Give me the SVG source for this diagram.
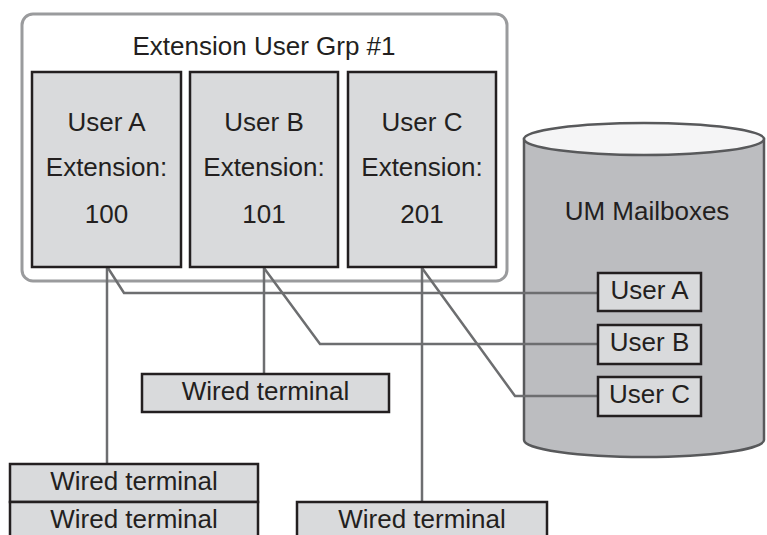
<svg xmlns="http://www.w3.org/2000/svg" width="767" height="535" viewBox="0 0 767 535">
<style>
text{font-family:"Liberation Sans",Arial,sans-serif;font-size:26px;fill:#231f20;text-anchor:middle}
.box{fill:#d9dadc;stroke:#231f20;stroke-width:2.5}
.conn{fill:none;stroke:#6d6e70;stroke-width:2.5}
</style>
<rect width="767" height="535" fill="#fff"/>
<g id="group1">
<rect x="22" y="14" width="485" height="267" rx="11" fill="#fff" stroke="#9a9b9d" stroke-width="3"/>
<text x="264" y="55">Extension User Grp #1</text>
</g>
<g id="mailboxes">
<path d="M524,139 L524,440 A120,17 0 0 0 764,440 L764,139 Z" fill="#bcbdc0" stroke="#58595b" stroke-width="2.5"/>
<ellipse cx="644" cy="139" rx="120" ry="16" fill="#f5f5f6" stroke="#58595b" stroke-width="2.5"/>
<text x="647" y="220">UM Mailboxes</text>
</g>
<g id="connectors">
<polyline class="conn" points="107,268 107,464"/>
<polyline class="conn" points="108,268 124,293 598,293"/>
<polyline class="conn" points="264,268 264,374"/>
<polyline class="conn" points="264,268 320,344 598,344"/>
<polyline class="conn" points="422,268 422,502"/>
<polyline class="conn" points="422,268 515,396 598,396"/>
</g>
<g id="userA">
<rect class="box" x="32" y="72" width="149" height="195"/>
<text x="106.5" y="131">User A</text>
<text x="106.5" y="176">Extension:</text>
<text x="106.5" y="223">100</text>
</g>
<g id="userB">
<rect class="box" x="190" y="72" width="148" height="195"/>
<text x="264" y="131">User B</text>
<text x="264" y="176">Extension:</text>
<text x="264" y="223">101</text>
</g>
<g id="userC">
<rect class="box" x="348" y="72" width="148" height="195"/>
<text x="422" y="131">User C</text>
<text x="422" y="176">Extension:</text>
<text x="422" y="223">201</text>
</g>
<g id="mbA">
<rect class="box" x="598" y="273" width="103" height="38"/>
<text x="649.5" y="299">User A</text>
</g>
<g id="mbB">
<rect class="box" x="598" y="325" width="103" height="39"/>
<text x="649.5" y="351">User B</text>
</g>
<g id="mbC">
<rect class="box" x="598" y="377" width="103" height="39"/>
<text x="649.5" y="403">User C</text>
</g>
<g id="termB">
<rect class="box" x="142" y="374" width="247" height="38"/>
<text x="265.5" y="400">Wired terminal</text>
</g>
<g id="termA1">
<rect class="box" x="10" y="464" width="248" height="38"/>
<text x="134" y="490">Wired terminal</text>
</g>
<g id="termA2">
<rect class="box" x="10" y="502" width="248" height="40"/>
<text x="134" y="528">Wired terminal</text>
</g>
<g id="termC">
<rect class="box" x="297" y="502" width="250" height="40"/>
<text x="422" y="528">Wired terminal</text>
</g>
</svg>
